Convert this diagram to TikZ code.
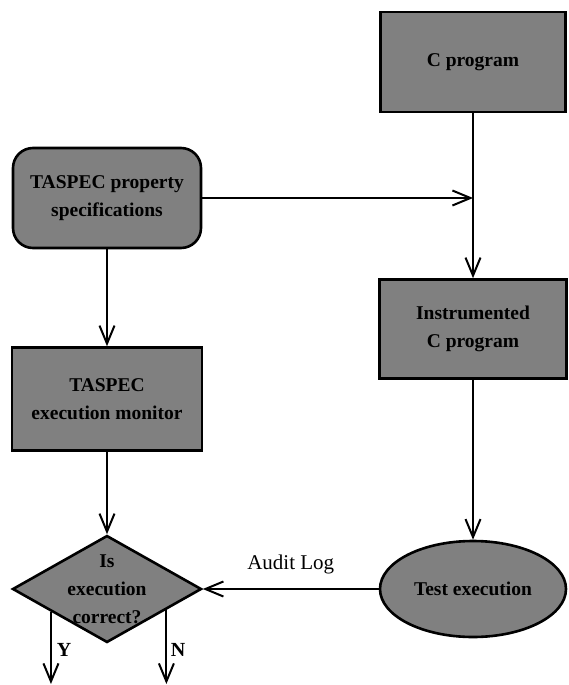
\documentclass[tikz,border=0pt]{standalone}
\usepackage{fontspec}
\setmainfont{Liberation Serif}
\usetikzlibrary{shapes.geometric,arrows.meta,calc}
\begin{document}
\begin{tikzpicture}[x=1pt,y=-1pt,
  shade box/.style={draw=black,line width=2.6pt,fill=black!50,align=center,
    font=\fontsize{19.5}{28}\selectfont\bfseries,inner sep=0pt},
  flow/.style={line width=2pt,-{Straight Barb[length=18pt,width=15pt,line width=2pt]}},
  lbl/.style={font=\fontsize{21}{24}\selectfont,inner sep=0pt}]
\useasboundingbox (0,0) rectangle (568,685);

% process blocks
\node[shade box,minimum width=185pt,minimum height=100pt] (cprog) at (473,62) {C program};
\node[shade box,minimum width=187pt,minimum height=99pt] (instr) at (473,329) {Instrumented\\C program};
\node[shade box,rounded corners=20pt,minimum width=188pt,minimum height=100pt] (prop) at (107,198) {TASPEC property\\specifications};
\node[shade box,minimum width=190pt,minimum height=103pt] (mon) at (107,399) {TASPEC\\execution monitor};
\node[shade box,ellipse,minimum width=186pt,minimum height=96pt] (test) at (473,589) {Test execution};

% decision
\node[shade box,diamond,minimum width=189pt,minimum height=107pt] (dec) at (107,589) {};
\node[lbl,align=center,font=\fontsize{19.5}{28}\selectfont\bfseries] (dectext) at (dec.center) {Is\\execution\\correct?};

% connectors
\coordinate (join) at (cprog.south |- prop.east);
\draw[flow] (prop.east) -- (join);
\draw[flow] (cprog.south) -- (instr.north);
\draw[flow] (instr.south) -- (test.north);
\draw[flow] (prop.south) -- (mon.north);
\draw[flow] (mon.south) -- (dec.north);
\draw[flow] (test.west) -- node[lbl,above=14pt] (audit) {Audit Log} (dec.east);

% decision outcomes
\coordinate (yes) at ($(dec.west)!0.415!(dec.south)$);
\coordinate (no) at ($(dec.east)!0.38!(dec.south)$);
\coordinate (yesend) at (yes |- 0,684);
\coordinate (noend) at (no |- 0,684);
\draw[flow] (yes) -- (yesend);
\draw[flow] (no) -- (noend);
\node[lbl,font=\fontsize{20}{24}\selectfont\bfseries] (ylab) at (64,650) {Y};
\node[lbl,font=\fontsize{20}{24}\selectfont\bfseries] (nlab) at (178,650) {N};
\end{tikzpicture}
\end{document}
